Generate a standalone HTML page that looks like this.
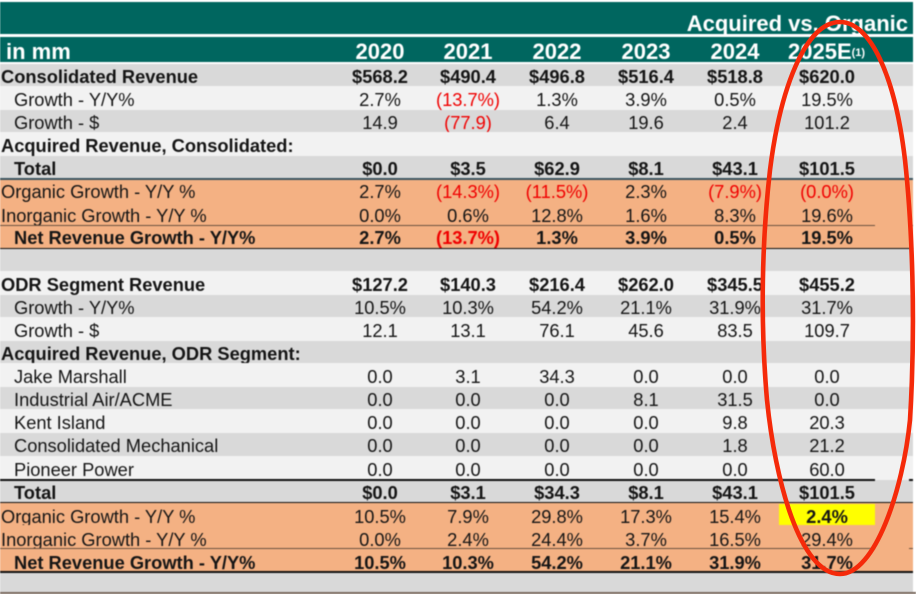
<!DOCTYPE html>
<html lang="en">
<head>
<meta charset="utf-8">
<title>Acquired vs. Organic</title>
<style>
html,body{margin:0;padding:0;background:#fff}
#page{position:relative;width:916px;height:594px;overflow:hidden;background:#fff;font-family:"Liberation Sans",sans-serif;color:#151515}
#tbl{position:absolute;left:0;top:0;width:916px;height:594px;filter:blur(.45px)}
.band{position:absolute;left:0;width:913px}
.r{position:absolute;left:0;width:913px;font-size:18.3px;white-space:nowrap}
.g{background:#d9d9d9}.l{background:#f2f2f2}.o{background:#f4b183}.t{background:#00665f}
.b{font-weight:700}
.r span{position:absolute;top:0}
.n{left:1px}.i{left:14px}
.c1,.c2,.c3,.c4,.c5,.c6{width:100px;text-align:center}
.c1{left:330px}.c2{left:418px}.c3{left:507px}.c4{left:596px}.c5{left:685px}.c6{left:777px}
.neg{color:#f00000}
.h{color:#fff;font-weight:700;font-size:22px}
.line{position:absolute;height:1.5px;background:#222}
.ln2{background:#6b5240}
</style>
</head>
<body>
<div id="page">
<div id="tbl">
<div class="band t" style="top:2px;height:32px"></div>
<div class="band t" style="top:37px;height:25px"></div>
<div class="r h" style="top:13px;height:22px;line-height:22px"><span style="right:5px">Acquired vs. Organic</span></div>
<div class="r h" style="top:37px;height:25px;line-height:30px">
<span style="left:6px">in mm</span>
<span class="c1">2020</span><span class="c2">2021</span><span class="c3">2022</span><span class="c4">2023</span><span class="c5">2024</span>
<span style="left:788px">2025E<sup style="font-size:11px;line-height:0;vertical-align:3px">(1)</sup></span>
</div>

<div class="r g b" style="top:64px;height:22px;line-height:26px"><span class="n">Consolidated Revenue</span><span class="c1">$568.2</span><span class="c2">$490.4</span><span class="c3">$496.8</span><span class="c4">$516.4</span><span class="c5">$518.8</span><span class="c6">$620.0</span></div>
<div class="r l" style="top:86px;height:24px;line-height:28px"><span class="i">Growth - Y/Y%</span><span class="c1">2.7%</span><span class="c2 neg">(13.7%)</span><span class="c3">1.3%</span><span class="c4">3.9%</span><span class="c5">0.5%</span><span class="c6">19.5%</span></div>
<div class="r g" style="top:110px;height:22px;line-height:26px"><span class="i">Growth - $</span><span class="c1">14.9</span><span class="c2 neg">(77.9)</span><span class="c3">6.4</span><span class="c4">19.6</span><span class="c5">2.4</span><span class="c6">101.2</span></div>
<div class="r l b" style="top:132px;height:24px;line-height:28px"><span class="n">Acquired Revenue, Consolidated:</span></div>
<div class="r g b" style="top:156px;height:23px;line-height:26px"><span class="i">Total</span><span class="c1">$0.0</span><span class="c2">$3.5</span><span class="c3">$62.9</span><span class="c4">$8.1</span><span class="c5">$43.1</span><span class="c6">$101.5</span></div>
<div class="r o" style="top:179px;height:23px;line-height:26px"><span class="n">Organic Growth - Y/Y %</span><span class="c1">2.7%</span><span class="c2 neg">(14.3%)</span><span class="c3 neg">(11.5%)</span><span class="c4">2.3%</span><span class="c5 neg">(7.9%)</span><span class="c6 neg">(0.0%)</span></div>
<div class="r o" style="top:202px;height:23px;line-height:27px"><span class="n">Inorganic Growth - Y/Y %</span><span class="c1">0.0%</span><span class="c2">0.6%</span><span class="c3">12.8%</span><span class="c4">1.6%</span><span class="c5">8.3%</span><span class="c6">19.6%</span></div>
<div class="r o b" style="top:225px;height:24px;line-height:26px"><span class="i">Net Revenue Growth - Y/Y%</span><span class="c1">2.7%</span><span class="c2 neg">(13.7%)</span><span class="c3">1.3%</span><span class="c4">3.9%</span><span class="c5">0.5%</span><span class="c6">19.5%</span></div>
<div class="r g" style="top:249px;height:22px"></div>

<div class="r l b" style="top:271px;height:24px;line-height:28px"><span class="n">ODR Segment Revenue</span><span class="c1">$127.2</span><span class="c2">$140.3</span><span class="c3">$216.4</span><span class="c4">$262.0</span><span class="c5">$345.5</span><span class="c6">$455.2</span></div>
<div class="r g" style="top:295px;height:22px;line-height:26px"><span class="i">Growth - Y/Y%</span><span class="c1">10.5%</span><span class="c2">10.3%</span><span class="c3">54.2%</span><span class="c4">21.1%</span><span class="c5">31.9%</span><span class="c6">31.7%</span></div>
<div class="r l" style="top:317px;height:24px;line-height:28px"><span class="i">Growth - $</span><span class="c1">12.1</span><span class="c2">13.1</span><span class="c3">76.1</span><span class="c4">45.6</span><span class="c5">83.5</span><span class="c6">109.7</span></div>
<div class="r g b" style="top:341px;height:22px;line-height:26px"><span class="n">Acquired Revenue, ODR Segment:</span></div>
<div class="r l" style="top:363px;height:24px;line-height:28px"><span class="i">Jake Marshall</span><span class="c1">0.0</span><span class="c2">3.1</span><span class="c3">34.3</span><span class="c4">0.0</span><span class="c5">0.0</span><span class="c6">0.0</span></div>
<div class="r g" style="top:387px;height:22px;line-height:26px"><span class="i">Industrial Air/ACME</span><span class="c1">0.0</span><span class="c2">0.0</span><span class="c3">0.0</span><span class="c4">8.1</span><span class="c5">31.5</span><span class="c6">0.0</span></div>
<div class="r l" style="top:409px;height:24px;line-height:28px"><span class="i">Kent Island</span><span class="c1">0.0</span><span class="c2">0.0</span><span class="c3">0.0</span><span class="c4">0.0</span><span class="c5">9.8</span><span class="c6">20.3</span></div>
<div class="r g" style="top:433px;height:23px;line-height:26px"><span class="i">Consolidated Mechanical</span><span class="c1">0.0</span><span class="c2">0.0</span><span class="c3">0.0</span><span class="c4">0.0</span><span class="c5">1.8</span><span class="c6">21.2</span></div>
<div class="r l" style="top:456px;height:24px;line-height:28px"><span class="i">Pioneer Power</span><span class="c1">0.0</span><span class="c2">0.0</span><span class="c3">0.0</span><span class="c4">0.0</span><span class="c5">0.0</span><span class="c6">60.0</span></div>
<div class="r g b" style="top:480px;height:22px;line-height:26px"><span class="i">Total</span><span class="c1">$0.0</span><span class="c2">$3.1</span><span class="c3">$34.3</span><span class="c4">$8.1</span><span class="c5">$43.1</span><span class="c6">$101.5</span></div>
<div class="r o" style="top:502px;height:23px;line-height:29px"><span class="n">Organic Growth - Y/Y %</span><span class="c1">10.5%</span><span class="c2">7.9%</span><span class="c3">29.8%</span><span class="c4">17.3%</span><span class="c5">15.4%</span><span class="b" style="left:779px;top:2px;width:96px;height:21px;line-height:25px;background:#ffff00;text-align:center">2.4%</span></div>
<div class="r o" style="top:525px;height:23px;line-height:29px"><span class="n">Inorganic Growth - Y/Y %</span><span class="c1">0.0%</span><span class="c2">2.4%</span><span class="c3">24.4%</span><span class="c4">3.7%</span><span class="c5">16.5%</span><span class="c6">29.4%</span></div>
<div class="r o b" style="top:548px;height:24px;line-height:29px"><span class="i">Net Revenue Growth - Y/Y%</span><span class="c1">10.5%</span><span class="c2">10.3%</span><span class="c3">54.2%</span><span class="c4">21.1%</span><span class="c5">31.9%</span><span class="c6">31.7%</span></div>
<div class="r g" style="top:572px;height:20px"></div>

<div class="line" style="left:0;top:178px;width:913px;background:#3c5560"></div>
<div class="line ln2" style="left:0;top:224.5px;width:875px"></div>
<div class="line ln2" style="left:909px;top:224.5px;width:4px"></div>
<div class="line" style="left:0;top:247.5px;width:913px;background:#111"></div>
<div class="line" style="left:0;top:479px;width:875px;background:#111"></div>
<div class="line" style="left:909px;top:479px;width:4px;background:#111"></div>
<div class="line" style="left:0;top:501.5px;width:913px;background:#111"></div>
<div class="line ln2" style="left:0;top:547.5px;width:875px"></div>
<div class="line ln2" style="left:909px;top:547.5px;width:4px"></div>
<div class="line" style="left:0;top:571px;width:913px;background:#111"></div>
<div style="position:absolute;left:0;top:592px;width:916px;height:2px;background:#7a6a5e"></div>
</div>
<svg width="916" height="594" style="position:absolute;left:0;top:0">
<path d="M840,22 C870,22 895,75 905,160 C912,225 916,320 910,420 C903,490 875,574 840,574 C800,574 775,480 767,400 C760,320 762,240 770,170 C780,90 805,22 840,22 Z" fill="none" stroke="#f52a0a" stroke-width="4.6"/>
</svg>
</div>
</body>
</html>
